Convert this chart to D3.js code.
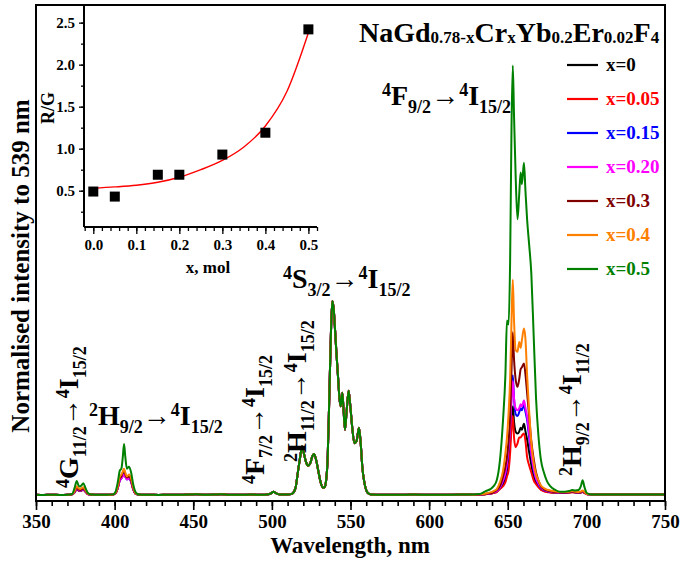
<!DOCTYPE html>
<html>
<head>
<meta charset="utf-8">
<script src="https://cdn.jsdelivr.net/npm/d3@7"></script>
<style>
  body { margin: 0; background: #fff; }
  svg { display: block; }
  svg text { font-family: "Liberation Serif", "Times New Roman", Times, serif !important; font-weight: bold; }
</style>
</head>
<body>
<svg id="chart" width="681" height="566"></svg>
<script>
// ---------- Upconversion spectra, normalised at 539 nm ----------
const seriesLabels = ["x=0", "x=0.05", "x=0.15", "x=0.20", "x=0.3", "x=0.4", "x=0.5"];
const seriesColors = ["#000000", "#ff0000", "#0000ff", "#ff00ff", "#800000", "#ff8000", "#008000"];

// Regions where all compositions coincide (baseline, 4F7/2, 2H11/2 and 4S3/2 bands)
const sharedWl = [350, 355, 360, 365,
  422, 428, 434, 440, 447, 452, 457, 463, 468, 473, 480, 487, 493, 498,
  500, 501, 502.5, 505, 510, 513,
  515, 516.5, 518, 519.2, 520.3, 521.5, 523, 524.5, 525.8, 526.8, 528, 529.5, 531, 532.5, 533.5, 534.5, 535.5, 536.5, 537.5, 538.4,
  539.3, 540.2, 541, 542, 543, 543.8, 544.8, 545.6, 546.5, 547.5, 548.8, 549.8, 551, 552.5, 553.8, 555.4, 556.5, 557.5, 558.8, 560, 561.5, 563,
  570, 580, 590, 600, 610, 620, 625,
  710, 718, 726, 734, 742, 750];
const sharedI = [0.006, 0.005, 0.006, 0.005,
  0.006, 0.005, 0.006, 0.006, 0.007, 0.009, 0.006, 0.007, 0.009, 0.006, 0.006, 0.007, 0.006, 0.009,
  0.016, 0.022, 0.014, 0.007, 0.007, 0.012,
  0.04, 0.12, 0.2, 0.255, 0.22, 0.18, 0.155, 0.17, 0.205, 0.215, 0.19, 0.13, 0.07, 0.042, 0.045, 0.08, 0.2, 0.5, 0.82, 1.0,
  0.96, 0.85, 0.74, 0.62, 0.5, 0.46, 0.53, 0.44, 0.34, 0.43, 0.54, 0.47, 0.36, 0.27, 0.28, 0.35, 0.27, 0.15, 0.07, 0.03, 0.012, 0.007,
  0.006, 0.006, 0.007, 0.006, 0.006, 0.007, 0.008,
  0.007, 0.007, 0.007, 0.007, 0.007, 0.007];

// Violet band: 4G11/2 -> 4I15/2 and 2H9/2 -> 4I15/2
const uvWl = [370, 373, 374.5, 375.9, 377, 378, 379, 380.1, 381.5, 383, 385, 390, 395, 399, 400.5, 402, 403.3, 404.3, 405.2, 406, 406.8, 407.8, 409.2, 410.5, 411.8, 413, 414.5, 416, 418];
const uv_x0   = [0.006, 0.008, 0.018, 0.036, 0.029, 0.026, 0.029, 0.032, 0.022, 0.01, 0.007, 0.006, 0.006, 0.007, 0.013, 0.042, 0.085, 0.095, 0.11, 0.12, 0.105, 0.09, 0.095, 0.075, 0.036, 0.014, 0.008, 0.007, 0.006];
const uv_x005 = [0.006, 0.008, 0.017, 0.034, 0.028, 0.025, 0.028, 0.03, 0.021, 0.009, 0.007, 0.006, 0.006, 0.007, 0.012, 0.04, 0.082, 0.092, 0.105, 0.115, 0.1, 0.088, 0.092, 0.072, 0.034, 0.014, 0.008, 0.007, 0.006];
const uv_x015 = [0.006, 0.008, 0.019, 0.038, 0.03, 0.027, 0.03, 0.034, 0.023, 0.01, 0.007, 0.006, 0.006, 0.007, 0.013, 0.04, 0.08, 0.09, 0.105, 0.115, 0.1, 0.085, 0.09, 0.072, 0.035, 0.014, 0.008, 0.007, 0.006];
const uv_x020 = [0.006, 0.008, 0.02, 0.04, 0.032, 0.028, 0.032, 0.036, 0.024, 0.01, 0.007, 0.006, 0.006, 0.007, 0.013, 0.04, 0.08, 0.09, 0.1, 0.11, 0.1, 0.085, 0.09, 0.075, 0.036, 0.015, 0.008, 0.007, 0.006];
const uv_x03  = [0.006, 0.008, 0.022, 0.042, 0.034, 0.03, 0.034, 0.038, 0.026, 0.011, 0.007, 0.006, 0.006, 0.007, 0.014, 0.045, 0.09, 0.1, 0.12, 0.13, 0.11, 0.095, 0.1, 0.08, 0.04, 0.016, 0.008, 0.007, 0.006];
const uv_x04  = [0.006, 0.008, 0.025, 0.05, 0.04, 0.035, 0.04, 0.045, 0.03, 0.012, 0.007, 0.006, 0.006, 0.007, 0.015, 0.05, 0.1, 0.11, 0.125, 0.14, 0.12, 0.1, 0.11, 0.09, 0.045, 0.018, 0.008, 0.007, 0.006];
const uv_x05  = [0.006, 0.01, 0.04, 0.077, 0.055, 0.048, 0.055, 0.065, 0.04, 0.015, 0.007, 0.006, 0.006, 0.008, 0.02, 0.07, 0.13, 0.14, 0.2, 0.267, 0.2, 0.14, 0.15, 0.12, 0.06, 0.025, 0.01, 0.007, 0.006];

// Red band: 4F9/2 -> 4I15/2 and 2H9/2 -> 4I11/2
const redWl = [628, 632, 636, 639, 641, 643, 645, 647, 648.5, 649.5, 650.5, 651.5, 652.4, 653.2, 654, 655, 656.2, 657.3, 658.2, 659, 660.3, 661.3, 662.3, 663.5, 665, 666.5, 668, 669.5, 671, 673, 675, 677, 680, 683, 686, 689, 691, 693, 695, 696.5, 697.6, 698.8, 700.2, 702, 705];
const red_x0   = [0.006, 0.007, 0.009, 0.012, 0.016, 0.022, 0.04, 0.06, 0.09, 0.13, 0.2, 0.28, 0.355, 0.46, 0.38, 0.33, 0.32, 0.33, 0.35, 0.34, 0.37, 0.33, 0.29, 0.23, 0.16, 0.1, 0.07, 0.05, 0.035, 0.026, 0.022, 0.019, 0.017, 0.016, 0.016, 0.018, 0.02, 0.018, 0.016, 0.018, 0.021, 0.016, 0.01, 0.008, 0.007];
const red_x005 = [0.006, 0.007, 0.009, 0.011, 0.015, 0.02, 0.035, 0.05, 0.07, 0.1, 0.13, 0.22, 0.355, 0.41, 0.3, 0.25, 0.27, 0.3, 0.3, 0.31, 0.32, 0.28, 0.2, 0.16, 0.12, 0.08, 0.06, 0.045, 0.032, 0.024, 0.02, 0.018, 0.016, 0.015, 0.015, 0.017, 0.019, 0.017, 0.015, 0.017, 0.02, 0.015, 0.01, 0.008, 0.007];
const red_x015 = [0.006, 0.007, 0.01, 0.013, 0.018, 0.025, 0.042, 0.075, 0.11, 0.16, 0.24, 0.36, 0.52, 0.62, 0.5, 0.42, 0.41, 0.43, 0.45, 0.44, 0.47, 0.43, 0.39, 0.31, 0.21, 0.13, 0.085, 0.06, 0.042, 0.03, 0.025, 0.021, 0.019, 0.017, 0.017, 0.019, 0.021, 0.019, 0.017, 0.019, 0.023, 0.017, 0.01, 0.008, 0.007];
const red_x020 = [0.006, 0.007, 0.01, 0.013, 0.018, 0.026, 0.045, 0.08, 0.12, 0.17, 0.25, 0.35, 0.5, 0.59, 0.5, 0.45, 0.44, 0.45, 0.47, 0.46, 0.49, 0.45, 0.41, 0.33, 0.22, 0.14, 0.09, 0.065, 0.045, 0.032, 0.026, 0.022, 0.02, 0.018, 0.018, 0.02, 0.022, 0.02, 0.018, 0.02, 0.024, 0.018, 0.01, 0.008, 0.007];
const red_x03  = [0.006, 0.007, 0.01, 0.014, 0.02, 0.03, 0.05, 0.1, 0.15, 0.2, 0.28, 0.4, 0.65, 0.84, 0.7, 0.6, 0.56, 0.6, 0.65, 0.66, 0.68, 0.62, 0.53, 0.42, 0.28, 0.19, 0.12, 0.08, 0.05, 0.035, 0.028, 0.024, 0.02, 0.018, 0.018, 0.02, 0.022, 0.02, 0.018, 0.02, 0.025, 0.018, 0.01, 0.008, 0.007];
const red_x04  = [0.006, 0.008, 0.012, 0.018, 0.025, 0.035, 0.07, 0.13, 0.22, 0.3, 0.42, 0.6, 0.9, 1.11, 0.9, 0.75, 0.74, 0.79, 0.76, 0.8, 0.86, 0.8, 0.62, 0.45, 0.27, 0.17, 0.11, 0.08, 0.055, 0.04, 0.032, 0.028, 0.024, 0.02, 0.02, 0.022, 0.025, 0.022, 0.02, 0.022, 0.028, 0.02, 0.01, 0.008, 0.007];
const red_x05  = [0.008, 0.01, 0.025, 0.035, 0.05, 0.08, 0.18, 0.39, 0.62, 0.9, 0.88, 1.2, 1.9, 2.21, 1.95, 1.65, 1.42, 1.55, 1.66, 1.6, 1.71, 1.56, 1.42, 1.3, 1.14, 0.82, 0.5, 0.31, 0.19, 0.12, 0.075, 0.05, 0.032, 0.022, 0.022, 0.025, 0.03, 0.028, 0.03, 0.05, 0.08, 0.045, 0.015, 0.009, 0.007];

const uvBySeries  = [uv_x0, uv_x005, uv_x015, uv_x020, uv_x03, uv_x04, uv_x05];
const redBySeries = [red_x0, red_x005, red_x015, red_x020, red_x03, red_x04, red_x05];

// ---------- Inset: red-to-green ratio vs Cr content ----------
const ratioX = [0, 0.05, 0.15, 0.2, 0.3, 0.4, 0.5];
const ratioY = [0.49, 0.43, 0.69, 0.69, 0.93, 1.19, 2.42];
const fitX = [0, 0.05, 0.1, 0.15, 0.2, 0.25, 0.3, 0.35, 0.4, 0.45, 0.5];
const fitY = [0.53, 0.545, 0.565, 0.6, 0.66, 0.75, 0.86, 1.02, 1.27, 1.68, 2.38];
const insetYTicks = [0.5, 1.0, 1.5, 2.0, 2.5];
const insetXTicks = [0, 0.1, 0.2, 0.3, 0.4, 0.5];
const mainXTicks = [350, 400, 450, 500, 550, 600, 650, 700, 750];

// ---------- Layout ----------
const FONT = "'Liberation Serif', 'Times New Roman', Times, serif";
const svg = d3.select("#chart");
const plot = { left: 36, right: 665, top: 5, bottom: 501 };

const x = d3.scaleLinear().domain([350, 750]).range([plot.left, plot.right]);
const y = d3.scaleLinear().domain([-0.026, 2.52]).range([plot.bottom, plot.top]);

// Assemble each spectrum from the shared and composition-specific bands
const spectra = seriesLabels.map((label, i) => {
  const pts = [];
  sharedWl.forEach((w, k) => pts.push({ wl: w, v: sharedI[k] }));
  uvWl.forEach((w, k) => pts.push({ wl: w, v: uvBySeries[i][k] }));
  redWl.forEach((w, k) => pts.push({ wl: w, v: redBySeries[i][k] }));
  pts.sort((a, b) => a.wl - b.wl);
  return { label, color: seriesColors[i], pts };
});

const line = d3.line()
  .x(d => x(d.wl))
  .y(d => y(d.v))
  .curve(d3.curveMonotoneX);

svg.append("g")
  .selectAll("path")
  .data(spectra)
  .join("path")
  .attr("d", d => line(d.pts))
  .attr("fill", "none")
  .attr("stroke", d => d.color)
  .attr("stroke-width", 2)
  .attr("stroke-linejoin", "round");

// Bottom axis: major every 50 nm, minor every 10 nm, ticks outward
const minorAxis = d3.axisBottom(x).tickValues(d3.range(350, 751, 10)).tickSize(5).tickFormat("");
const majorAxis = d3.axisBottom(x).tickValues(mainXTicks).tickSize(9).tickPadding(5).tickFormat(d3.format("d"));
const gMinor = svg.append("g").attr("transform", `translate(0,${plot.bottom})`).call(minorAxis);
const gMajor = svg.append("g").attr("transform", `translate(0,${plot.bottom})`).call(majorAxis);
[gMinor, gMajor].forEach(g => {
  g.attr("font-family", FONT);
  g.select(".domain").remove();
  g.selectAll(".tick line").attr("stroke", "#000").attr("stroke-width", 1.6);
});
gMajor.selectAll(".tick text").attr("font-size", 19).attr("fill", "#000");

// Frame
svg.append("rect")
  .attr("x", plot.left).attr("y", plot.top)
  .attr("width", plot.right - plot.left).attr("height", plot.bottom - plot.top)
  .attr("fill", "none").attr("stroke", "#000").attr("stroke-width", 2);

// Axis titles
svg.append("text")
  .attr("x", 350).attr("y", 553)
  .attr("text-anchor", "middle").attr("font-size", 23)
  .text("Wavelength, nm");
svg.append("text")
  .attr("transform", "translate(29,266) rotate(-90)")
  .attr("text-anchor", "middle").attr("font-size", 25)
  .text("Normalised intensity to 539 nm");

// Rich text with super/subscripts
function rich(sel, parts, big, small, supShift, subShift) {
  let shift = 0;
  parts.forEach(([t, kind]) => {
    const target = kind === "sup" ? -supShift : kind === "sub" ? subShift : 0;
    sel.append("tspan")
      .attr("dy", target - shift)
      .attr("font-size", kind ? small : big)
      .text(t);
    shift = target;
  });
}

// Compound formula
const title = svg.append("text").attr("x", 359).attr("y", 42);
rich(title, [["NaGd"], ["0.78-x", "sub"], ["Cr"], ["x", "sub"], ["Yb"], ["0.2", "sub"], ["Er"], ["0.02", "sub"], ["F"], ["4", "sub"]], 28, 17, 0, 1);

// Transition labels
const transitions = [
  { parts: [["4", "sup"], ["G"], ["11/2", "sub"], ["→"], ["4", "sup"], ["I"], ["15/2", "sub"]], at: [78, 488], rot: true },
  { parts: [["2", "sup"], ["H"], ["9/2", "sub"], ["→"], ["4", "sup"], ["I"], ["15/2", "sub"]], at: [89, 425], rot: false },
  { parts: [["4", "sup"], ["F"], ["7/2", "sub"], ["→"], ["4", "sup"], ["I"], ["15/2", "sub"]], at: [264, 484], rot: true },
  { parts: [["2", "sup"], ["H"], ["11/2", "sub"], ["→"], ["4", "sup"], ["I"], ["15/2", "sub"]], at: [306, 462], rot: true },
  { parts: [["4", "sup"], ["S"], ["3/2", "sub"], ["→"], ["4", "sup"], ["I"], ["15/2", "sub"]], at: [283, 288], rot: false },
  { parts: [["4", "sup"], ["F"], ["9/2", "sub"], ["→"], ["4", "sup"], ["I"], ["15/2", "sub"]], at: [382, 105], rot: false },
  { parts: [["2", "sup"], ["H"], ["9/2", "sub"], ["→"], ["4", "sup"], ["I"], ["11/2", "sub"]], at: [581, 476], rot: true }
];
transitions.forEach(tr => {
  const t = svg.append("text")
    .attr("transform", `translate(${tr.at[0]},${tr.at[1]})${tr.rot ? " rotate(-90)" : ""}`);
  rich(t, tr.parts, 28, 18, 9, 8);
});

// Legend
const legend = svg.append("g");
spectra.forEach((s, i) => {
  const ly = 65 + i * 34;
  legend.append("line")
    .attr("x1", 567).attr("x2", 598).attr("y1", ly).attr("y2", ly)
    .attr("stroke", s.color).attr("stroke-width", 2.2);
  legend.append("text")
    .attr("x", 606).attr("y", ly + 6)
    .attr("font-size", 19).attr("fill", s.color)
    .text(s.label);
});

// ---------- Inset ----------
const inset = { left: 84, right: 317, top: 5, bottom: 227 };
const ix = d3.scaleLinear().domain([-0.0216, 0.52]).range([inset.left, inset.right]);
const iy = d3.scaleLinear().domain([0.068, 2.71]).range([inset.bottom, inset.top]);

const gi = svg.append("g");
const ixMinor = d3.axisBottom(ix).tickValues(d3.range(-0.02, 0.521, 0.02)).tickSize(4).tickFormat("");
const ixMajor = d3.axisBottom(ix).tickValues(insetXTicks).tickSize(7).tickPadding(5).tickFormat(d3.format(".1f"));
const iyMinor = d3.axisLeft(iy).tickValues(d3.range(0.25, 2.71, 0.25)).tickSize(3).tickFormat("");
const iyMajor = d3.axisLeft(iy).tickValues(insetYTicks).tickSize(5).tickPadding(4).tickFormat(d3.format(".1f"));
[[ixMinor, `translate(0,${inset.bottom})`], [ixMajor, `translate(0,${inset.bottom})`],
 [iyMinor, `translate(${inset.left},0)`], [iyMajor, `translate(${inset.left},0)`]].forEach(([ax, tf]) => {
  const g = gi.append("g").attr("transform", tf).call(ax);
  g.attr("font-family", FONT);
  g.select(".domain").remove();
  g.selectAll(".tick line").attr("stroke", "#000").attr("stroke-width", 1.3);
  g.selectAll(".tick text").attr("font-size", 15).attr("fill", "#000");
});
gi.append("line").attr("x1", inset.left).attr("x2", inset.left).attr("y1", inset.top).attr("y2", inset.bottom)
  .attr("stroke", "#000").attr("stroke-width", 2);
gi.append("line").attr("x1", inset.left).attr("x2", inset.right).attr("y1", inset.bottom).attr("y2", inset.bottom)
  .attr("stroke", "#000").attr("stroke-width", 2);

const fitLine = d3.line().x((d, i) => ix(fitX[i])).y(d => iy(d)).curve(d3.curveMonotoneX);
gi.append("path").attr("d", fitLine(fitY)).attr("fill", "none").attr("stroke", "#ff0000").attr("stroke-width", 1.4);

gi.selectAll("rect.pt")
  .data(ratioX.map((v, i) => [v, ratioY[i]]))
  .join("rect")
  .attr("class", "pt")
  .attr("x", d => ix(d[0]) - 5).attr("y", d => iy(d[1]) - 5)
  .attr("width", 10).attr("height", 10)
  .attr("fill", "#000");

gi.append("text").attr("x", 208).attr("y", 273).attr("text-anchor", "middle").attr("font-size", 17).text("x, mol");
gi.append("text").attr("transform", "translate(54,108) rotate(-90)").attr("text-anchor", "middle").attr("font-size", 18).text("R/G");
</script>
</body>
</html>
